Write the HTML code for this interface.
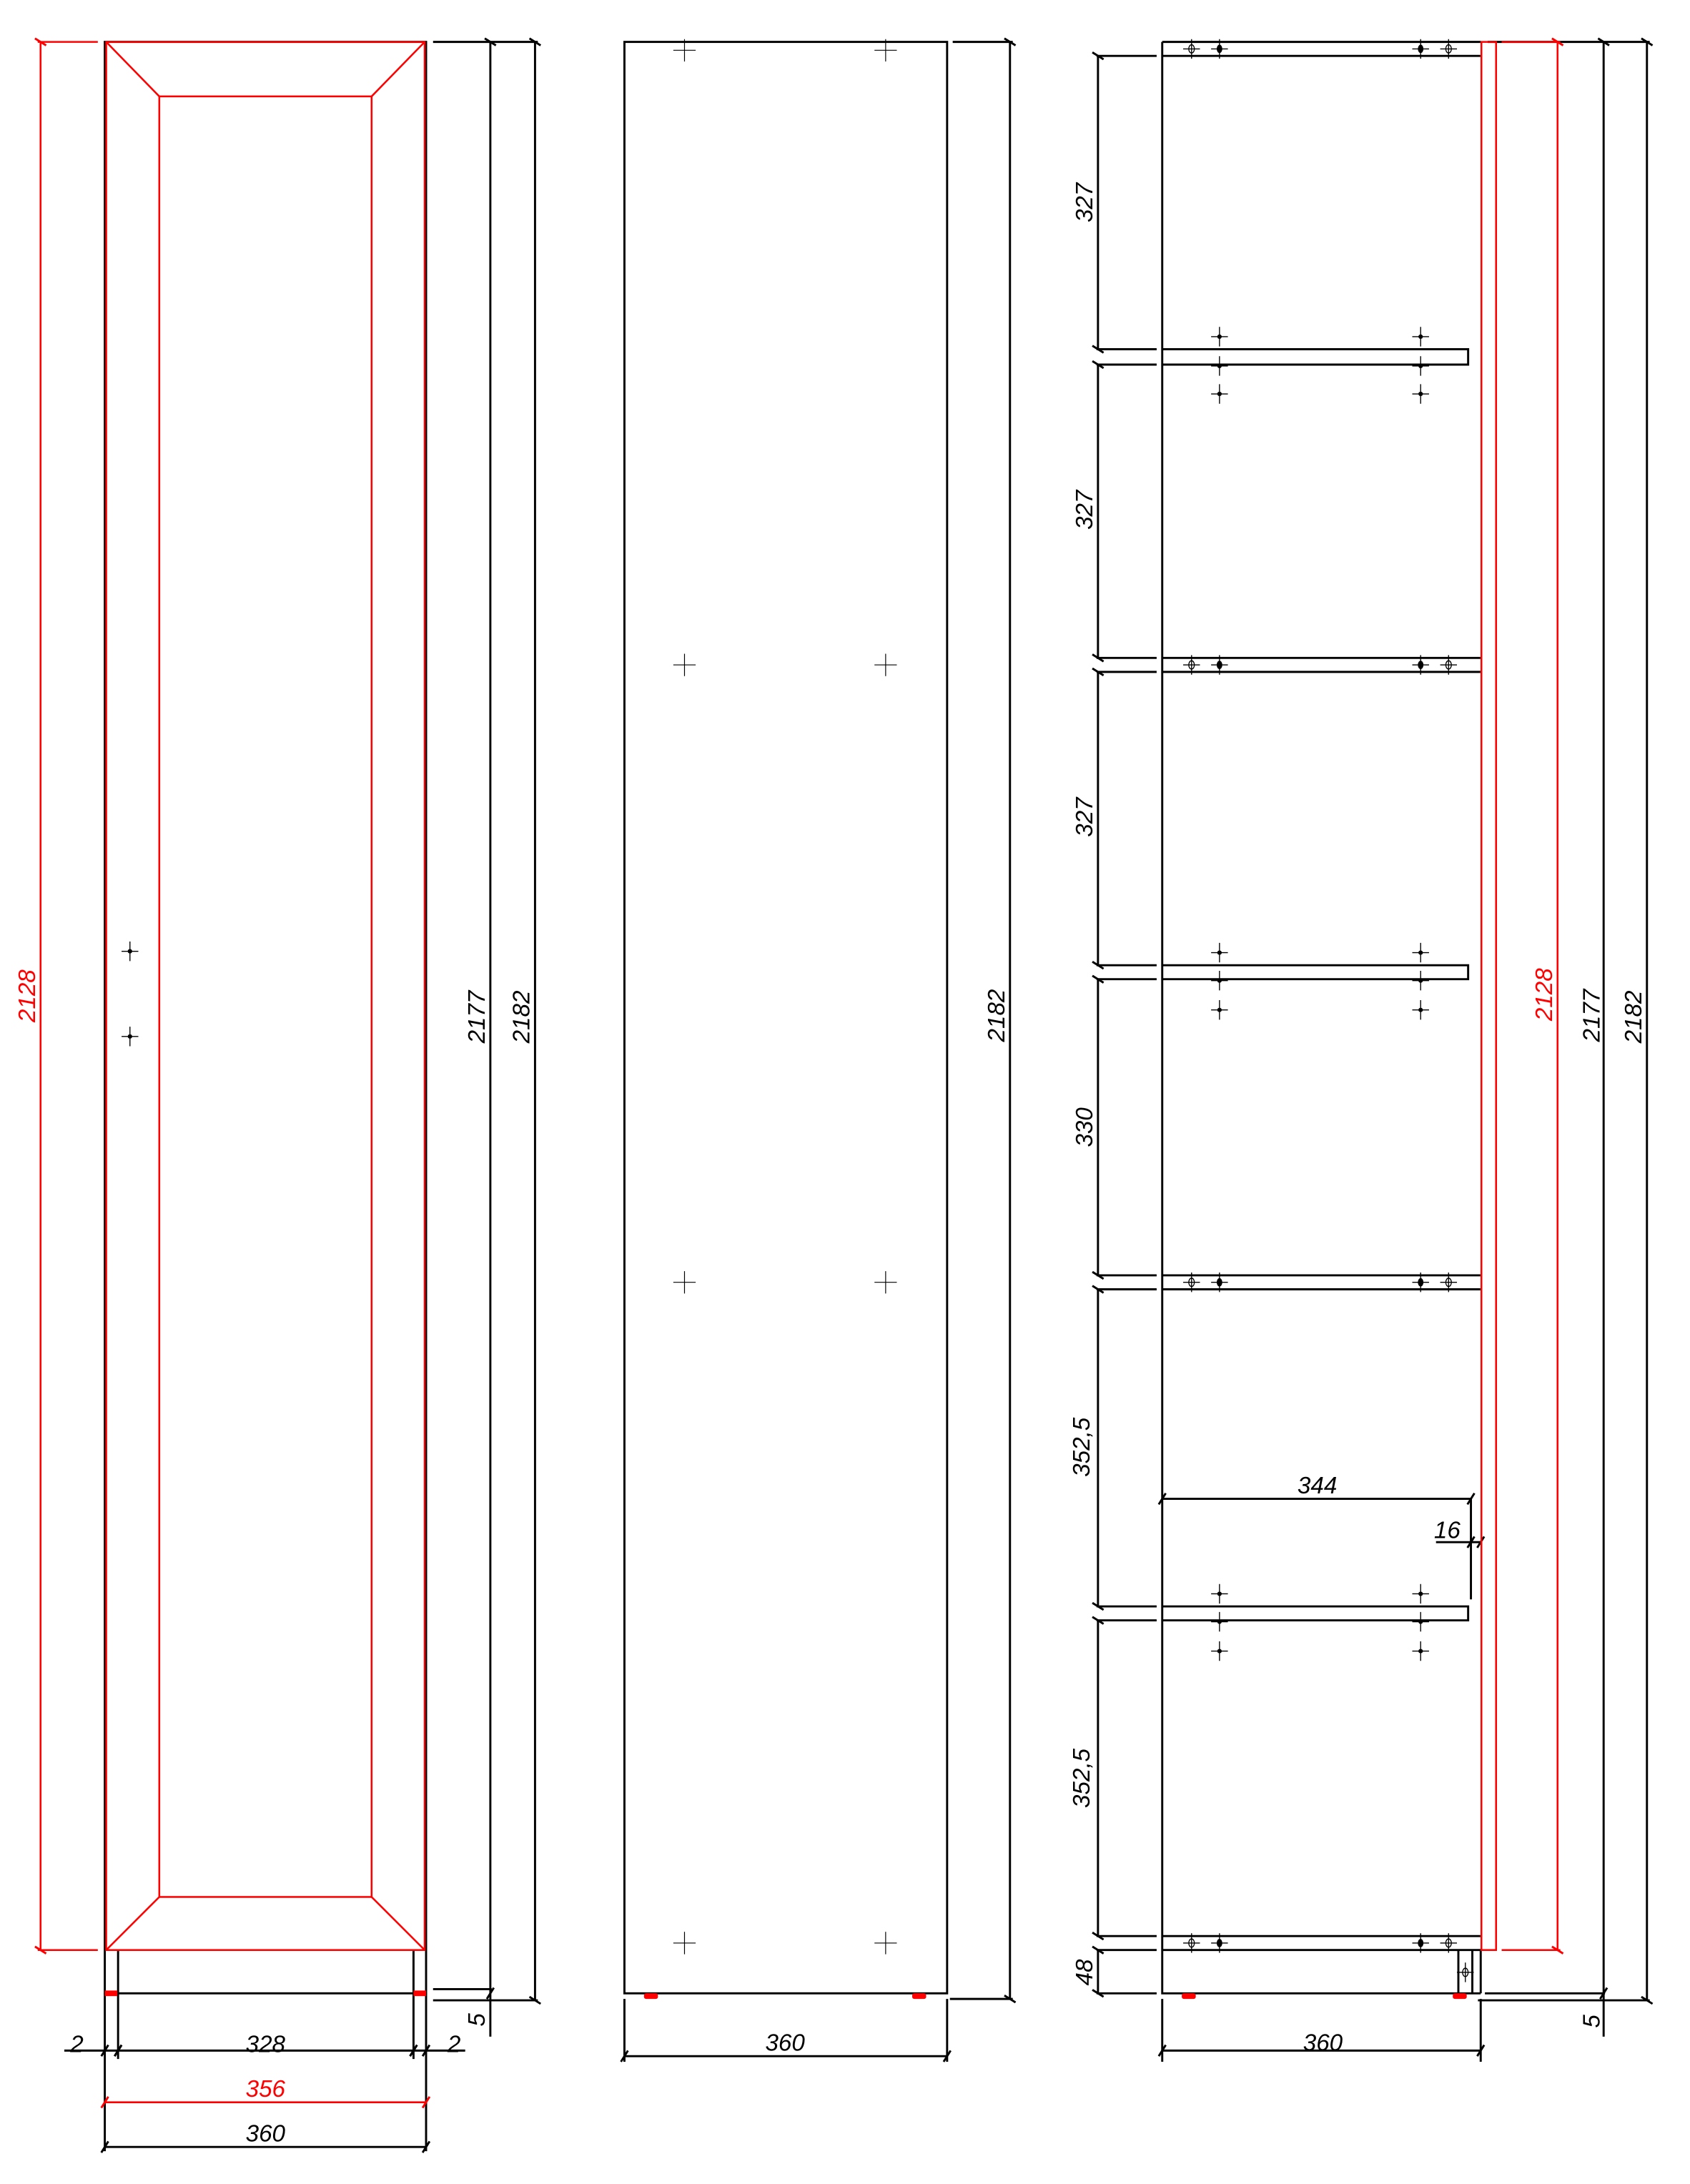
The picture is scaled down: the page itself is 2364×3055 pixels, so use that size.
<!DOCTYPE html>
<html><head><meta charset="utf-8"><style>
html,body{margin:0;padding:0;background:#fff}
svg{display:block}
text{font-family:"Liberation Sans",sans-serif;font-style:italic;font-size:17px}
</style></head><body>
<svg width="2364" height="3055" viewBox="0 0 1209.8 1563.5" xmlns="http://www.w3.org/2000/svg">
<defs>
<marker id="t" viewBox="-5 -5 10 10" markerWidth="10" markerHeight="10" refX="0" refY="0" markerUnits="userSpaceOnUse" orient="auto"><path d="M-2.5,4 L2.5,-4" stroke="#000" stroke-width="1.5"/></marker>
<marker id="tr" viewBox="-5 -5 10 10" markerWidth="10" markerHeight="10" refX="0" refY="0" markerUnits="userSpaceOnUse" orient="auto"><path d="M-2.5,4 L2.5,-4" stroke="#f00" stroke-width="1.5"/></marker>
<g id="cr"><path d="M-6,0H6M0,-7V7" stroke="#000" stroke-width="0.7"/><circle r="1.6" fill="#000"/></g>
<g id="co"><path d="M-6,0H6M0,-7V7" stroke="#000" stroke-width="0.7"/><ellipse rx="2" ry="3" fill="none" stroke="#000" stroke-width="0.7"/></g>
<g id="cf"><path d="M-6,0H6M0,-7V7" stroke="#000" stroke-width="0.7"/><ellipse rx="2" ry="3" fill="#000"/></g>
<g id="cp"><path d="M-8,0H8M0,-8V8" stroke="#000" stroke-width="0.6"/></g>
</defs>

<!-- ============ LEFT PANEL ============ -->
<g stroke="#000" stroke-width="1.5" fill="none">
<rect x="75" y="30" width="230" height="1397"/>
<path d="M84.5,1396V1474M296,1396V1474"/>
<path d="M75,1427V1540M305,1427V1540"/>
<path d="M310,30H385M310,1424H352M310,1432H385"/>
<path d="M351,30V1458" marker-start="url(#t)"/>
<path d="M351,1427" />
<path d="M383,30V1432" marker-start="url(#t)" marker-end="url(#t)"/>
<path d="M46,1468H75" /><path d="M75,1468H84.5" marker-start="url(#t)" marker-end="url(#t)"/>
<path d="M84.5,1468H296" marker-start="url(#t)" marker-end="url(#t)"/>
<path d="M296,1468H305" marker-start="url(#t)" marker-end="url(#t)"/><path d="M305,1468H333"/>
<path d="M75,1537H305" marker-start="url(#t)" marker-end="url(#t)"/>
</g>
<path d="M351,1427l-2.5,4l5,-8" stroke="#000" stroke-width="1.5" fill="none"/>
<g stroke="#f00" stroke-width="1.3" fill="none">
<rect x="76" y="30" width="228" height="1366"/>
<rect x="114" y="69" width="152" height="1289"/>
<path d="M76,30L114,69M304,30L266,69M76,1396L114,1358M304,1396L266,1358"/>
<path d="M27,30H70M27,1396H70"/>
<path d="M29,30V1396" marker-start="url(#tr)" marker-end="url(#tr)"/>
<path d="M75,1505H305" marker-start="url(#tr)" marker-end="url(#tr)"/>
</g>
<rect x="75" y="1425" width="9" height="4" fill="#f00"/>
<rect x="296" y="1425" width="9" height="4" fill="#f00"/>
<use href="#cr" x="93" y="681"/><use href="#cr" x="93" y="742"/>
<text x="19" y="713" fill="#f00" text-anchor="middle" transform="rotate(-90 19 713)" dy="6">2128</text>
<text x="341" y="728" text-anchor="middle" transform="rotate(-90 341 728)" dy="6">2177</text>
<text x="373" y="728" text-anchor="middle" transform="rotate(-90 373 728)" dy="6">2182</text>
<text x="341" y="1446" text-anchor="middle" transform="rotate(-90 341 1446)" dy="6">5</text>
<text x="55" y="1469" text-anchor="middle">2</text>
<text x="190" y="1469" text-anchor="middle">328</text>
<text x="325" y="1469" text-anchor="middle">2</text>
<text x="190" y="1501" text-anchor="middle" fill="#f00">356</text>
<text x="190" y="1533" text-anchor="middle">360</text>

<!-- ============ MIDDLE PANEL ============ -->
<g stroke="#000" stroke-width="1.5" fill="none">
<rect x="447" y="30" width="231" height="1397"/>
<path d="M682,30H725M680,1431H725"/>
<path d="M723,30V1431" marker-start="url(#t)" marker-end="url(#t)"/>
<path d="M447,1431V1476M678,1431V1476"/>
<path d="M447,1472H678" marker-start="url(#t)" marker-end="url(#t)"/>
</g>
<use href="#cp" x="490" y="36"/><use href="#cp" x="634" y="36"/>
<use href="#cp" x="490" y="476"/><use href="#cp" x="634" y="476"/>
<use href="#cp" x="490" y="918"/><use href="#cp" x="634" y="918"/>
<use href="#cp" x="490" y="1391"/><use href="#cp" x="634" y="1391"/>
<rect x="461" y="1427" width="10" height="4" rx="1.5" fill="#f00"/>
<rect x="653" y="1427" width="10" height="4" rx="1.5" fill="#f00"/>
<text x="713" y="727" text-anchor="middle" transform="rotate(-90 713 727)" dy="6">2182</text>
<text x="562" y="1468" text-anchor="middle">360</text>

<!-- ============ RIGHT PANEL ============ -->
<g stroke="#000" stroke-width="1.5" fill="none">
<path d="M832,30V1427H1060"/>
<path d="M832,30H1060M832,40H1060"/>
<path d="M832,471H1060M832,481H1060"/>
<path d="M832,913H1060M832,923H1060"/>
<path d="M832,1386H1060M832,1396H1060"/>
<path d="M832,250H1051V261H832M832,691H1051V701H832M832,1150H1051V1160H832"/>
<path d="M1044,1396V1427M1054,1396V1427M1060,1396V1427"/>
<!-- left ext lines -->
<path d="M785,40H828M785,250H828M785,261H828M785,471H828M785,481H828M785,691H828M785,701H828M785,913H828M785,923H828M785,1150H828M785,1160H828M785,1386H828M785,1396H828M785,1427H828"/>
<path d="M786,40V250" marker-start="url(#t)" marker-end="url(#t)"/>
<path d="M786,261V471" marker-start="url(#t)" marker-end="url(#t)"/>
<path d="M786,481V691" marker-start="url(#t)" marker-end="url(#t)"/>
<path d="M786,701V913" marker-start="url(#t)" marker-end="url(#t)"/>
<path d="M786,923V1150" marker-start="url(#t)" marker-end="url(#t)"/>
<path d="M786,1160V1386" marker-start="url(#t)" marker-end="url(#t)"/>
<path d="M786,1396V1427" marker-start="url(#t)" marker-end="url(#t)"/>
<!-- 344 / 16 -->
<path d="M832,1073H1053" marker-start="url(#t)" marker-end="url(#t)"/>
<path d="M1053,1073V1145"/>
<path d="M1028,1104H1053"/><path d="M1053,1104H1060" marker-start="url(#t)" marker-end="url(#t)"/>
<!-- right dims -->
<path d="M1065,30H1181M1075,30"/>
<path d="M1063,1427H1149M1058,1432H1181"/>
<path d="M1148,30V1458" marker-start="url(#t)"/>
<path d="M1179,30V1432" marker-start="url(#t)" marker-end="url(#t)"/>
<path d="M832,1431V1476M1060,1431V1476"/>
<path d="M832,1468H1060" marker-start="url(#t)" marker-end="url(#t)"/>
</g>
<path d="M1148,1427l-2.5,4l5,-8" stroke="#000" stroke-width="1.5" fill="none"/>
<g stroke="#f00" stroke-width="1.3" fill="none">
<rect x="1060.5" y="30" width="10.5" height="1366"/>
<path d="M1075,30H1117M1075,1396H1117"/>
<path d="M1115,30V1396" marker-start="url(#tr)" marker-end="url(#tr)"/>
</g>
<!-- hole markers -->
<use href="#co" x="853" y="35"/><use href="#cf" x="873" y="35"/><use href="#cf" x="1017" y="35"/><use href="#co" x="1037" y="35"/>
<use href="#co" x="853" y="476"/><use href="#cf" x="873" y="476"/><use href="#cf" x="1017" y="476"/><use href="#co" x="1037" y="476"/>
<use href="#co" x="853" y="918"/><use href="#cf" x="873" y="918"/><use href="#cf" x="1017" y="918"/><use href="#co" x="1037" y="918"/>
<use href="#co" x="853" y="1391"/><use href="#cf" x="873" y="1391"/><use href="#cf" x="1017" y="1391"/><use href="#co" x="1037" y="1391"/>
<use href="#cr" x="873" y="241"/><use href="#cr" x="873" y="262"/><use href="#cr" x="873" y="282"/>
<use href="#cr" x="1017" y="241"/><use href="#cr" x="1017" y="262"/><use href="#cr" x="1017" y="282"/>
<use href="#cr" x="873" y="682"/><use href="#cr" x="873" y="702"/><use href="#cr" x="873" y="723"/>
<use href="#cr" x="1017" y="682"/><use href="#cr" x="1017" y="702"/><use href="#cr" x="1017" y="723"/>
<use href="#cr" x="873" y="1141"/><use href="#cr" x="873" y="1161"/><use href="#cr" x="873" y="1182"/>
<use href="#cr" x="1017" y="1141"/><use href="#cr" x="1017" y="1161"/><use href="#cr" x="1017" y="1182"/>
<use href="#co" x="1049" y="1412"/>
<rect x="846" y="1427" width="10" height="4" rx="1.5" fill="#f00"/>
<rect x="1040" y="1427" width="10" height="4" rx="1.5" fill="#f00"/>
<text x="776" y="145" text-anchor="middle" transform="rotate(-90 776 145)" dy="6">327</text>
<text x="776" y="365" text-anchor="middle" transform="rotate(-90 776 365)" dy="6">327</text>
<text x="776" y="585" text-anchor="middle" transform="rotate(-90 776 585)" dy="6">327</text>
<text x="776" y="807" text-anchor="middle" transform="rotate(-90 776 807)" dy="6">330</text>
<text x="774" y="1036" text-anchor="middle" transform="rotate(-90 774 1036)" dy="6">352,5</text>
<text x="774" y="1273" text-anchor="middle" transform="rotate(-90 774 1273)" dy="6">352,5</text>
<text x="776" y="1412" text-anchor="middle" transform="rotate(-90 776 1412)" dy="6">48</text>
<text x="943" y="1069" text-anchor="middle">344</text>
<text x="1036" y="1101" text-anchor="middle">16</text>
<text x="1105" y="712" fill="#f00" text-anchor="middle" transform="rotate(-90 1105 712)" dy="6">2128</text>
<text x="1139" y="727" text-anchor="middle" transform="rotate(-90 1139 727)" dy="6">2177</text>
<text x="1169" y="728" text-anchor="middle" transform="rotate(-90 1169 728)" dy="6">2182</text>
<text x="1139" y="1447" text-anchor="middle" transform="rotate(-90 1139 1447)" dy="6">5</text>
<text x="947" y="1468" text-anchor="middle">360</text>
</svg>
</body></html>
